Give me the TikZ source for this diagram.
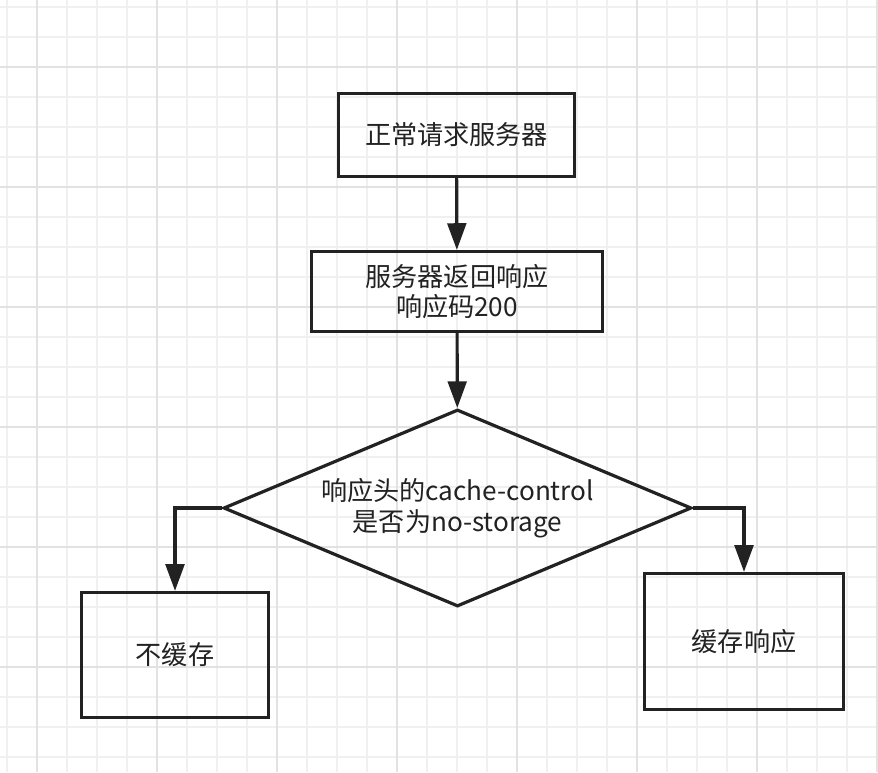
\documentclass[tikz,border=0pt]{standalone}
\usepackage{fontspec}
\setmainfont{Noto Sans CJK SC}
\usetikzlibrary{arrows.meta,shapes.geometric}
\definecolor{ink}{HTML}{222222}
\definecolor{gridminor}{HTML}{F0F0F0}
\definecolor{gridmajor}{HTML}{E2E2E2}
\begin{document}
\begin{tikzpicture}[x=0.75pt,y=-0.75pt,
  minorline/.style={draw=gridminor,line width=1.1pt},
  majorline/.style={draw=gridmajor,line width=1.3pt},
  stepbox/.style={draw=ink,line width=2.4pt,rectangle,inner sep=0pt,align=center,
    font=\fontsize{19.6pt}{22.5pt}\selectfont,text=ink},
  decision/.style={draw=ink,line width=2.4pt,diamond,aspect=2.355,inner sep=0pt,align=center,
    font=\fontsize{19.6pt}{23pt}\selectfont,text=ink},
  arr/.style={draw=ink,line width=2.4pt,-{Triangle[length=20pt,width=14pt]}}]
\useasboundingbox (0,0) rectangle (878,772);
\fill[white] (0,0) rectangle (878,772);
\foreach \x in {7,37,...,877} \draw[minorline] (\x,0) -- (\x,772);
\foreach \y in {7,37,...,772} \draw[minorline] (0,\y) -- (878,\y);
\foreach \x in {37,157,...,877} \draw[majorline] (\x,0) -- (\x,772);
\foreach \y in {67,187,...,772} \draw[majorline] (0,\y) -- (878,\y);

\node[stepbox,minimum width=236*0.75pt,minimum height=83*0.75pt] (req) at (456.5,135) {正常请求服务器};
\node[stepbox,minimum width=291*0.75pt,minimum height=80*0.75pt] (ret) at (457,291.5) {服务器返回响应\\响应码200};
\node[decision,minimum width=468*0.75pt,minimum height=197*0.75pt] (dia) at (457.5,508) {响应头的cache-control\\是否为no-storage};
\node[stepbox,minimum width=187*0.75pt,minimum height=125*0.75pt] (no) at (175,655) {不缓存};
\node[stepbox,minimum width=199*0.75pt,minimum height=136*0.75pt] (yes) at (744,641.5) {缓存响应};

\draw[arr] (req) -- (ret);
\draw[arr] (ret) -- (dia);
\draw[arr] (dia.west) -| (no.north);
\draw[arr] (dia.east) -| (yes.north);
\end{tikzpicture}
\end{document}
